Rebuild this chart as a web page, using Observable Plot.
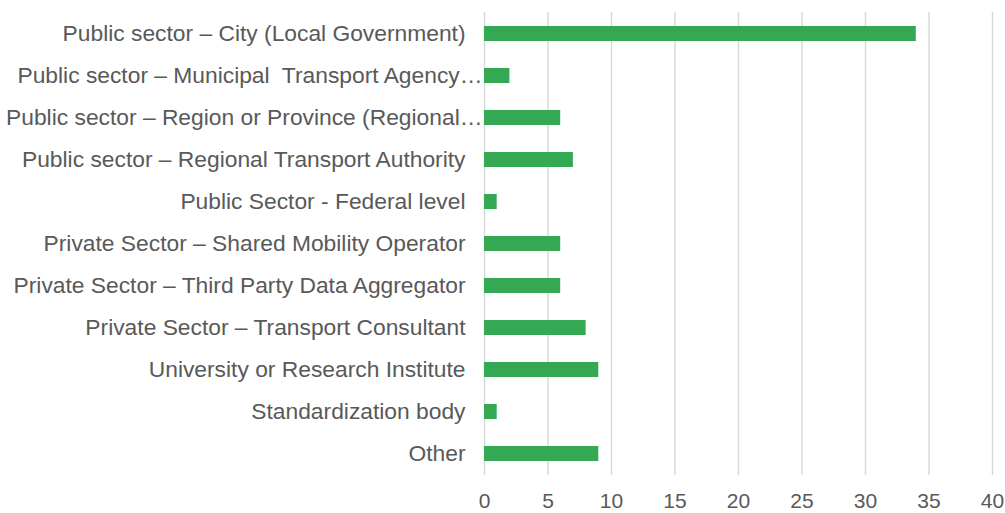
<!DOCTYPE html>
<html>
<head>
<meta charset="utf-8">
<script src="https://cdn.jsdelivr.net/npm/d3@7"></script>
<script src="https://cdn.jsdelivr.net/npm/@observablehq/plot@0.6"></script>
<style>
  html, body { margin: 0; padding: 0; background: #fff; }
</style>
</head>
<body>
<div id="chart"></div>
<script>
const categories = [
  "Public sector – City (Local Government)",
  "Public sector – Municipal  Transport Agency…",
  "Public sector – Region or Province (Regional…",
  "Public sector – Regional Transport Authority",
  "Public Sector - Federal level",
  "Private Sector – Shared Mobility Operator",
  "Private Sector – Third Party Data Aggregator",
  "Private Sector – Transport Consultant",
  "University or Research Institute",
  "Standardization body",
  "Other"
];
const values = [34, 2, 6, 7, 1, 6, 6, 8, 9, 1, 9];
const xTicks = [0, 5, 10, 15, 20, 25, 30, 35, 40];

const data = categories.map((c, i) => ({category: c, value: values[i]}));
const truncated = categories.filter(c => c.endsWith("…"));
const normal = categories.filter(c => !c.endsWith("…"));

const chart = Plot.plot({
  width: 1005,
  height: 513,
  marginLeft: 484,
  marginRight: 13,
  marginTop: 12,
  marginBottom: 38,
  style: {fontFamily: "'Liberation Sans', Arial, sans-serif", color: "#595959", background: "#fff"},
  x: {domain: [0, 40], ticks: xTicks},
  y: {domain: categories, paddingInner: 0.64, paddingOuter: 0.32},
  marks: [
    Plot.gridX(xTicks, {stroke: "#d9d9d9", strokeOpacity: 1, strokeWidth: 1.5}),
    Plot.barX(data, {x: "value", y: "category", fill: "#34A853"}),
    Plot.axisX({ticks: xTicks, tickSize: 0, tickPadding: 18, fontSize: 21, label: null, fill: "#595959"}),
    Plot.axisY({ticks: normal, tickSize: 0, tickPadding: 19, fontSize: 22.8, label: null, fill: "#595959"}),
    Plot.axisY({ticks: truncated, tickSize: 0, tickPadding: 2, fontSize: 22.8, label: null, fill: "#595959"})
  ]
});
document.getElementById("chart").appendChild(chart);
</script>
</body>
</html>
